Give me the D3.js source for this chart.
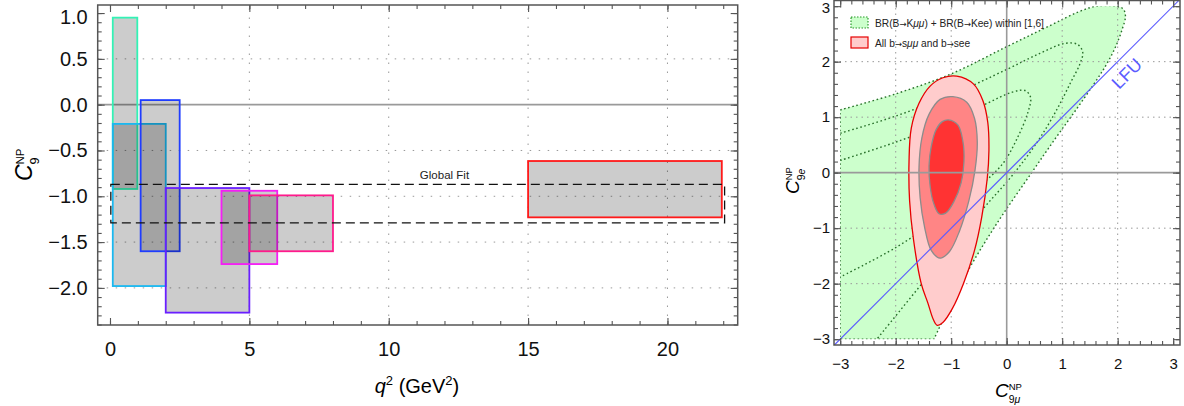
<!DOCTYPE html>
<html lang="en">
<head>
<meta charset="UTF-8">
<title>C9 bins and LFU fit</title>
<script src="https://d3js.org/d3.v7.min.js"></script>
<style>
body { margin: 0; background: #fff; }
svg text { font-family: "Liberation Sans", Arial, sans-serif; }
svg .arr { font-family: "DejaVu Sans", sans-serif; }
</style>
</head>
<body>
<svg id="chart" width="1184" height="406"></svg>
<script>
// ---- left panel: C9 per q2 bin ----
const binLo = [0.1, 0.1, 1.1, 2, 4, 5, 15]
const binHi = [0.98, 2, 2.5, 5, 6, 8, 21.95]
const c9Lo = [-0.92, -1.98, -1.6, -2.27, -1.74, -1.6, -1.23]
const c9Hi = [0.95, -0.21, 0.05, -0.91, -0.94, -0.99, -0.615]
const binColors = ['#33f2b5', '#1ab8f0', '#1f3dff', '#6a1fff', '#f51ef5', '#ff1a8c', '#ff1a1a']
const globalFitQ2 = [0.03, 22.05]
const globalFitC9 = [-1.29, -0.87]
const leftXTicks = [0, 5, 10, 15, 20]
const leftYTicks = [1, 0.5, 0, -0.5, -1, -1.5, -2]
const leftYGrid = [0.5, -0.5, -1, -1.5, -2]

// ---- right panel: C9mu vs C9e ----
const rightTicks = [-3, -2, -1, 0, 1, 2, 3]
const greenOuter = [[-3, 1.13], [-2, 1.42], [-1, 1.78], [0, 2.27], [0.8, 2.66], [1.3, 2.9], [1.62, 3.0], [1.98, 3.0],
    [2.1, 2.95], [2.14, 2.82], [2.08, 2.58], [1.95, 2.24], [1.78, 1.92], [1.56, 1.58], [1.24, 1.12], [0.88, 0.62],
    [0.45, 0.0], [-0.2, -0.95], [-0.8, -1.95], [-1.31, -3.0]]
const greenMid = [[-3, 0.71], [-2, 1.02], [-1, 1.4], [0, 1.86], [0.6, 2.15], [1.05, 2.33], [1.28, 2.31], [1.37, 2.17],
    [1.32, 1.96], [1.16, 1.64], [0.9, 1.13], [0.55, 0.55], [0.1, -0.05], [-0.45, -0.68], [-1.3, -1.72], [-2.34, -3.0]]
const greenInner = [[-3, 0.22], [-2, 0.55], [-1, 0.93], [-0.35, 1.25], [0.1, 1.45], [0.33, 1.48], [0.43, 1.36],
    [0.38, 1.08], [0.18, 0.6], [-0.08, 0.15], [-0.5, -0.25], [-1.12, -0.75], [-2, -1.35], [-3, -1.88]]
const redOuter = [[-0.9, 1.74], [-0.6, 1.6], [-0.43, 1.3], [-0.34, 0.9], [-0.32, 0.4], [-0.35, -0.1], [-0.45, -0.8],
    [-0.58, -1.4], [-0.78, -2.0], [-0.98, -2.45], [-1.15, -2.7], [-1.25, -2.75], [-1.32, -2.65], [-1.42, -2.35],
    [-1.54, -2.0], [-1.68, -1.2], [-1.75, -0.5], [-1.76, 0.2], [-1.72, 0.8], [-1.58, 1.25], [-1.38, 1.56], [-1.15, 1.71]]
const redMid = [[-0.97, 1.37], [-0.72, 1.27], [-0.58, 0.98], [-0.53, 0.55], [-0.57, 0.05], [-0.68, -0.5], [-0.85, -1.05],
    [-1.03, -1.42], [-1.2, -1.54], [-1.36, -1.4], [-1.48, -0.98], [-1.56, -0.45], [-1.58, 0.1], [-1.53, 0.62],
    [-1.4, 1.05], [-1.2, 1.32]]
const redInner = [[-1.05, 0.95], [-0.88, 0.86], [-0.79, 0.57], [-0.77, 0.2], [-0.82, -0.18], [-0.95, -0.52],
    [-1.1, -0.73], [-1.22, -0.74], [-1.32, -0.54], [-1.38, -0.24], [-1.4, 0.12], [-1.36, 0.47], [-1.27, 0.78],
    [-1.16, 0.92]]

const svg = d3.select('#chart')
const fmtMinus = s => s.replace('-', '\u2212')

// draws frame with inward ticks on all four sides
function drawFrame(g, x, y, xMajor, xMinor, yMajor, yMinor, xFmt, yFmt, fontSize, padX, padY, topShift) {
    const [x0, x1] = x.range()
    const [y0, y1] = y.range()
    const put = (axis, tx, ty) => {
        const a = g.append('g').attr('transform', 'translate(' + tx + ',' + ty + ')').call(axis)
        a.select('.domain').remove()
        a.selectAll('line').attr('stroke', '#555').attr('stroke-width', 1.1)
        a.selectAll('text').attr('font-family', '"Liberation Sans", Arial, sans-serif')
            .attr('font-size', fontSize).attr('fill', '#111')
        return a
    }
    put(d3.axisBottom(x).tickValues(xMajor).tickSize(-7).tickPadding(padX).tickFormat(xFmt), 0, y0)
    put(d3.axisBottom(x).tickValues(xMinor).tickSize(-4).tickFormat(''), 0, y0)
    put(d3.axisTop(x).tickValues(xMajor).tickSize(-7).tickFormat(''), 0, y1)
    put(d3.axisTop(x).tickValues(xMinor).tickSize(-4).tickFormat(''), 0, y1)
    const ya = put(d3.axisLeft(y).tickValues(yMajor).tickSize(-7).tickPadding(padY).tickFormat(yFmt), x0, 0)
    // the topmost label sits a little lower, as in the original
    const yMax = d3.max(yMajor)
    ya.selectAll('.tick').filter(d => d === yMax).select('text').attr('y', topShift)
    put(d3.axisLeft(y).tickValues(yMinor).tickSize(-4).tickFormat(''), x0, 0)
    put(d3.axisRight(y).tickValues(yMajor).tickSize(-7).tickFormat(''), x1, 0)
    put(d3.axisRight(y).tickValues(yMinor).tickSize(-4).tickFormat(''), x1, 0)
    g.append('rect').attr('x', x0).attr('y', y1).attr('width', x1 - x0).attr('height', y0 - y1)
        .attr('fill', 'none').attr('stroke', '#555').attr('stroke-width', 1.5)
}

// C with super NP and subscript
function cLabel(g, tx, ty, rot, size, sub, subItalic) {
    const t = g.append('g').attr('transform', 'translate(' + tx + ',' + ty + ') rotate(' + rot + ')')
    t.append('text').attr('x', 0).attr('y', 0).attr('font-size', size).attr('font-style', 'italic').text('C')
    const sx = size * 0.72
    t.append('text').attr('x', sx).attr('y', -size * 0.36).attr('font-size', size * 0.5).text('NP')
    const s = t.append('text').attr('x', sx).attr('y', size * 0.3).attr('font-size', size * 0.55)
    s.append('tspan').text(sub[0])
    if (sub.length > 1) s.append('tspan').attr('font-style', subItalic ? 'italic' : 'normal').text(sub.slice(1))
}

// ================= LEFT PANEL =================
const xL = d3.scaleLinear().domain([-0.441, 22.52]).range([97.7, 737.7])
const yL = d3.scaleLinear().domain([-2.405, 1.088]).range([325, 5])
const gL = svg.append('g')

gL.selectAll('.vgrid').data(leftXTicks.filter(d => d > 0)).enter().append('line')
    .attr('x1', d => xL(d)).attr('x2', d => xL(d)).attr('y1', yL.range()[0]).attr('y2', yL.range()[1])
    .attr('stroke', '#999').attr('stroke-width', 1).attr('stroke-dasharray', '1.5,7.5')
gL.selectAll('.hgrid').data(leftYGrid).enter().append('line')
    .attr('x1', xL.range()[0]).attr('x2', xL.range()[1]).attr('y1', d => yL(d)).attr('y2', d => yL(d))
    .attr('stroke', '#999').attr('stroke-width', 1).attr('stroke-dasharray', '1.5,7.5')
gL.append('line').attr('x1', xL.range()[0]).attr('x2', xL.range()[1]).attr('y1', yL(0)).attr('y2', yL(0))
    .attr('stroke', '#9a9a9a').attr('stroke-width', 1.6)

binLo.forEach((lo, i) => {
    gL.append('rect')
        .attr('x', xL(lo)).attr('y', yL(c9Hi[i]))
        .attr('width', xL(binHi[i]) - xL(lo)).attr('height', yL(c9Lo[i]) - yL(c9Hi[i]))
        .attr('fill', '#000').attr('fill-opacity', 0.2)
        .attr('stroke', binColors[i]).attr('stroke-width', 1.8)
})

gL.append('rect')
    .attr('x', xL(globalFitQ2[0])).attr('y', yL(globalFitC9[1]))
    .attr('width', xL(globalFitQ2[1]) - xL(globalFitQ2[0])).attr('height', yL(globalFitC9[0]) - yL(globalFitC9[1]))
    .attr('fill', 'none').attr('stroke', '#111').attr('stroke-width', 1.3).attr('stroke-dasharray', '9,5')
gL.append('text').attr('x', xL(12)).attr('y', yL(-0.77) + 4).attr('text-anchor', 'middle')
    .attr('font-size', 11.5).attr('fill', '#222').text('Global Fit')

drawFrame(gL, xL, yL, leftXTicks, d3.range(0, 23, 1), leftYTicks, d3.range(-24, 11, 1).map(d => d / 10),
    d => String(d), d => fmtMinus(d3.format('.1f')(d)), 20, 17, 10, 4)

const qLab = gL.append('text').attr('x', 417).attr('y', 393).attr('text-anchor', 'middle').attr('font-size', 20)
qLab.append('tspan').attr('font-style', 'italic').text('q')
qLab.append('tspan').attr('font-size', 13).attr('dy', -8).text('2')
qLab.append('tspan').attr('dy', 8).text(' (GeV')
qLab.append('tspan').attr('font-size', 13).attr('dy', -8).text('2')
qLab.append('tspan').attr('dy', 8).text(')')

cLabel(gL, 32, 181, -90, 23, '9', false)

// ================= RIGHT PANEL =================
const xR = d3.scaleLinear().domain([-3.112, 3.123]).range([834, 1180])
const yR = d3.scaleLinear().domain([-3.105, 3.102]).range([345, 0.5])
const gR = svg.append('g')

svg.append('defs').append('clipPath').attr('id', 'box3')
    .append('rect').attr('x', xR(-3)).attr('y', yR(3)).attr('width', xR(3) - xR(-3)).attr('height', yR(-3) - yR(3))
svg.select('defs').append('clipPath').attr('id', 'frameR')
    .append('rect').attr('x', xR.range()[0]).attr('y', yR.range()[1])
    .attr('width', xR.range()[1] - xR.range()[0]).attr('height', yR.range()[0] - yR.range()[1])

const line = d3.line().x(d => xR(d[0])).y(d => yR(d[1])).curve(d3.curveCatmullRom.alpha(0.5))
const closed = d3.line().x(d => xR(d[0])).y(d => yR(d[1])).curve(d3.curveCatmullRomClosed.alpha(0.5))

// green region: curve then down the box edges
const greenPath = line(greenOuter) + 'L' + xR(-3) + ',' + yR(-3) + 'Z'
const gClip = gR.append('g').attr('clip-path', 'url(#box3)')
gClip.append('path').attr('d', greenPath).attr('fill', '#ccffcc').attr('stroke', 'none')

const dotted = { stroke: '#28702a', width: 1.4, dash: '1.6,2.6' }
gClip.append('path').attr('d', greenPath).attr('fill', 'none').attr('stroke', dotted.stroke)
    .attr('stroke-width', dotted.width).attr('stroke-dasharray', dotted.dash)
;[greenMid, greenInner].forEach(c => {
    gClip.append('path').attr('d', line(c)).attr('fill', 'none').attr('stroke', dotted.stroke)
        .attr('stroke-width', dotted.width).attr('stroke-dasharray', dotted.dash)
})

// grid
const rGrid = [-2, -1, 1, 2]
gR.selectAll('.vg').data(rGrid).enter().append('line')
    .attr('x1', d => xR(d)).attr('x2', d => xR(d)).attr('y1', yR.range()[0]).attr('y2', yR.range()[1])
    .attr('stroke', '#999').attr('stroke-width', 1).attr('stroke-dasharray', '1.5,4')
gR.selectAll('.hg').data(rGrid).enter().append('line')
    .attr('x1', xR.range()[0]).attr('x2', xR.range()[1]).attr('y1', d => yR(d)).attr('y2', d => yR(d))
    .attr('stroke', '#999').attr('stroke-width', 1).attr('stroke-dasharray', '1.5,4')

// red fit contours
gR.append('path').attr('d', closed(redOuter)).attr('fill', '#ffcccc').attr('stroke', '#e60000').attr('stroke-width', 1.3)
gR.append('path').attr('d', closed(redMid)).attr('fill', '#ff8585').attr('stroke', '#8c8c8c').attr('stroke-width', 1.3)
gR.append('path').attr('d', closed(redInner)).attr('fill', '#ff3333').attr('stroke', '#8c8c8c').attr('stroke-width', 1.3)

gR.append('line').attr('x1', xR(0)).attr('x2', xR(0)).attr('y1', yR.range()[0]).attr('y2', yR.range()[1])
    .attr('stroke', '#9a9a9a').attr('stroke-width', 1.6)
gR.append('line').attr('x1', xR.range()[0]).attr('x2', xR.range()[1]).attr('y1', yR(0)).attr('y2', yR(0))
    .attr('stroke', '#9a9a9a').attr('stroke-width', 1.6)

// LFU line
gR.append('line').attr('clip-path', 'url(#frameR)')
    .attr('x1', xR(-3.2)).attr('y1', yR(-3.2)).attr('x2', xR(3.2)).attr('y2', yR(3.2))
    .attr('stroke', '#5b5bff').attr('stroke-width', 1.1)
gR.append('text').attr('transform', 'translate(' + xR(2.16) + ',' + yR(1.79) + ') rotate(-45)')
    .attr('text-anchor', 'middle').attr('dy', '0.36em').attr('font-size', 18).attr('fill', '#5b5bff').text('LFU')

// legend
gR.append('rect').attr('x', 851).attr('y', 17).attr('width', 17).attr('height', 11)
    .attr('fill', '#ccffcc').attr('stroke', '#2a9a2a').attr('stroke-width', 1.2).attr('stroke-dasharray', '1.5,1.5')
const l1 = gR.append('text').attr('x', 875).attr('y', 26.5).attr('font-size', 10.2).attr('fill', '#222')
l1.append('tspan').text('BR(B')
l1.append('tspan').attr('class', 'arr').attr('font-size', 8.5).text('\u2192')
l1.append('tspan').text('K')
l1.append('tspan').attr('font-style', 'italic').text('\u03bc\u03bc')
l1.append('tspan').text(') + BR(B')
l1.append('tspan').attr('class', 'arr').attr('font-size', 8.5).text('\u2192')
l1.append('tspan').text('Kee) within [1,6]')
gR.append('rect').attr('x', 851).attr('y', 37).attr('width', 17).attr('height', 11)
    .attr('fill', '#ffcccc').attr('stroke', '#e60000').attr('stroke-width', 1.2)
const l2 = gR.append('text').attr('x', 875).attr('y', 46.5).attr('font-size', 10.2).attr('fill', '#222')
l2.append('tspan').text('All b')
l2.append('tspan').attr('class', 'arr').attr('font-size', 8.5).text('\u2192')
l2.append('tspan').text('s')
l2.append('tspan').attr('font-style', 'italic').text('\u03bc\u03bc')
l2.append('tspan').text(' and b')
l2.append('tspan').attr('class', 'arr').attr('font-size', 8.5).text('\u2192')
l2.append('tspan').text('see')

drawFrame(gR, xR, yR, rightTicks, d3.range(-15, 16, 1).map(d => d / 5), rightTicks, d3.range(-15, 16, 1).map(d => d / 5),
    d => fmtMinus(String(d)), d => fmtMinus(String(d)), 15, 13, 4, 2)

cLabel(gR, 995, 397, 0, 19, '9\u03bc', true)
cLabel(gR, 799, 194, -90, 19, '9e', true)
</script>
</body>
</html>
